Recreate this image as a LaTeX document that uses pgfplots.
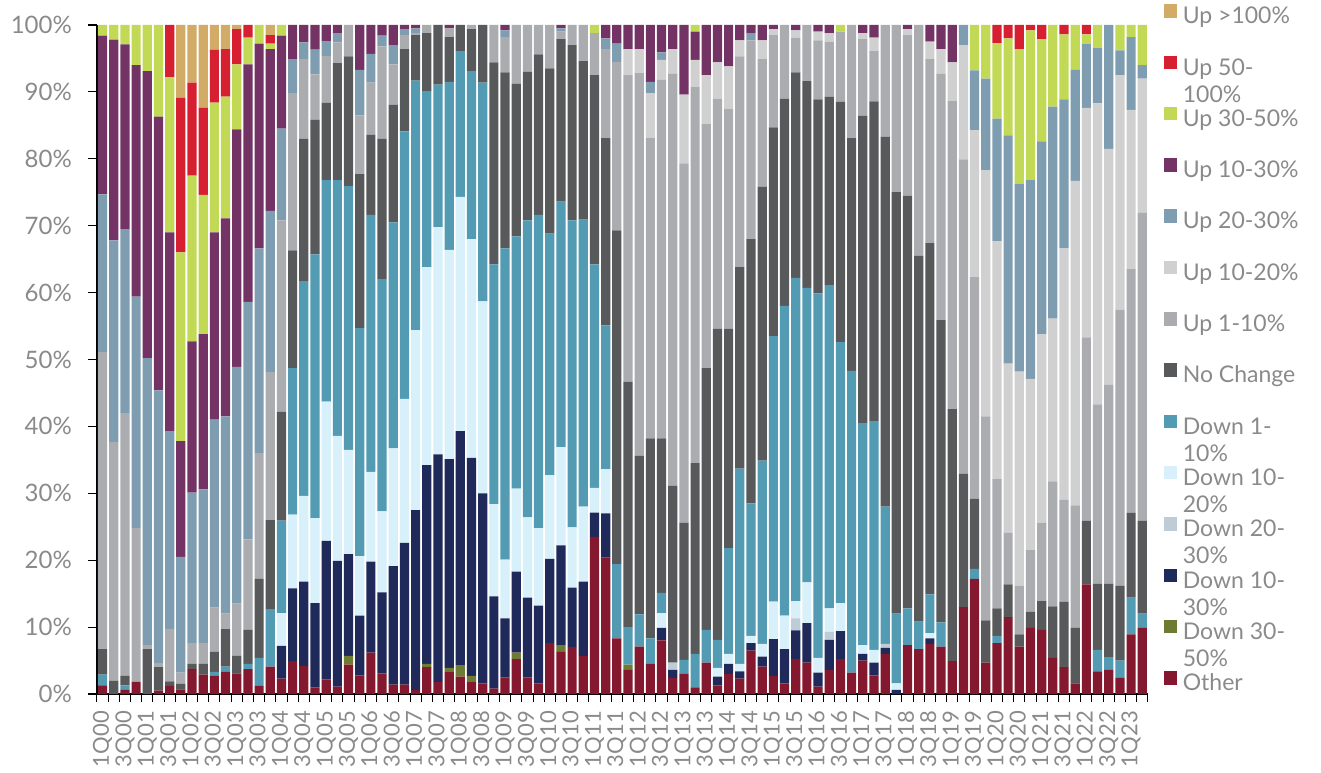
\documentclass[border=0pt]{standalone}
\usepackage{fontspec}
\setmainfont{Lato}
\usepackage{pgfplots}
\usepackage{pgfplotstable}
\pgfplotsset{compat=1.18}

\definecolor{cTan}{HTML}{D2AC67}
\definecolor{cRed}{HTML}{D62031}
\definecolor{cLime}{HTML}{C2D956}
\definecolor{cPurple}{HTML}{733465}
\definecolor{cSteel}{HTML}{7F9DB1}
\definecolor{cLgray}{HTML}{D0D0D0}
\definecolor{cGray}{HTML}{ABACAF}
\definecolor{cDgray}{HTML}{58595B}
\definecolor{cTeal}{HTML}{529BB3}
\definecolor{cIce}{HTML}{D7F0FA}
\definecolor{cMist}{HTML}{BDCCD6}
\definecolor{cNavy}{HTML}{1F2A5A}
\definecolor{cOlive}{HTML}{6E7B33}
\definecolor{cWine}{HTML}{84182E}
\definecolor{txt}{HTML}{8A8A8A}

\newcommand\twol[2]{\vtop{\baselineskip=27bp\hbox{#1}\hbox{#2}}}

% share of firms by change, quarterly 1Q00-2Q23 (bottom to top)
\pgfplotstableread{
x O D5 DN D23 D12 D1 NC U1 U12 U23 U13 U35 U5 U100
0 1.3 0 0 0 0 1.6 3.8 44.4 0 23.6 23.7 1.6 0 0
1 0 0 0 0 0 0 2.0 35.7 0 30.1 30.0 2.2 0 0
2 0.6 0 0 0 0 0.7 1.4 39.3 0 27.5 27.6 2.9 0 0
3 1.8 0 0 0 0 0 0 23.0 0 34.6 34.6 6.0 0 0
4 0 0 0 0 0 0 6.7 0.6 0 42.9 42.9 6.9 0 0
5 0.5 0 0 0 0 0 3.5 0.6 0 40.8 40.9 13.7 0 0
6 1.2 0 0 0 0 0 0.7 7.8 0 29.6 29.7 23.2 7.8 0
7 0.7 0 0 0 0 0 0.8 1.7 0 17.3 17.3 28.2 23.1 10.9
8 3.7 0 0 0 0 0 0.8 3.1 0 22.5 22.6 24.8 13.9 8.6
9 2.9 0 0 0 0 0 1.6 3.1 0 23.0 23.2 20.8 13.0 12.4
10 2.7 0 0 0 0 0.6 3.0 6.6 0 28.1 28.0 19.4 7.9 3.7
11 3.3 0 0 0 0 0.8 5.6 2.3 0 29.5 29.6 18.2 7.1 3.6
12 3.1 0 0 0 0 0 2.6 7.8 0 35.4 35.5 9.7 5.3 0.6
13 3.7 0 0 0 0 0.8 5.1 13.5 0 35.5 35.5 4.0 1.9 0
14 1.2 0 0 0 0 4.2 11.8 18.8 0 30.6 30.6 2.8 0 0
15 4.1 0 0 0 0 8.6 13.3 22.1 0 24.1 24.2 0.8 1.3 1.5
16 2.3 0 4.9 0 4.9 13.8 16.3 28.6 0 13.7 13.9 1.6 0 0
17 4.9 0 10.9 0 11.0 21.9 17.6 23.5 0 5.1 5.1 0 0 0
18 4.2 0 12.6 0 12.8 32.1 21.3 11.9 0 2.5 2.6 0 0 0
19 1.0 0 12.6 0 12.7 39.4 20.1 6.8 0 3.7 3.7 0 0 0
20 2.2 0 20.7 0 20.8 33.1 11.6 7.0 0 2.2 2.4 0 0 0
21 1.1 0 18.8 0 18.7 38.2 17.5 3.1 0 1.4 1.2 0 0 0
22 4.4 1.3 15.2 0 15.6 39.4 19.4 4.7 0 0 0 0 0 0
23 2.8 0 8.9 0 8.9 34.1 23.0 8.8 0 6.8 6.7 0 0 0
24 6.2 0 13.6 0 13.4 38.4 12.0 7.8 0 4.3 4.3 0 0 0
25 3.1 0 12.1 0 12.1 34.7 21.0 13.8 0 1.6 1.6 0 0 0
26 1.4 0 17.7 0 17.6 33.8 17.6 6.0 0 2.9 3.0 0 0 0
27 1.4 0 21.2 0 21.5 40.0 12.3 2.1 0 0.9 0.6 0 0 0
28 0.6 0 26.9 0 26.9 37.3 6.8 0.3 0 0.7 0.5 0 0 0
29 4.0 0.5 29.7 0 29.6 26.3 8.7 1.2 0 0 0 0 0 0
30 1.8 0 34.0 0 34.0 21.3 8.9 0 0 0 0 0 0 0
31 3.4 0.5 31.2 0 31.3 25.1 6.7 1.3 0 0 0.5 0 0 0
32 2.6 1.7 35.0 0 35.0 21.8 3.9 0 0 0 0 0 0 0
33 1.9 0.8 32.6 0 32.7 25.1 6.3 0.6 0 0 0 0 0 0
34 1.6 0 28.4 0 28.7 32.7 8.6 0 0 0 0 0 0 0
35 0.8 0 13.8 0 13.8 35.8 30.2 5.6 0 0 0 0 0 0
36 2.5 0 8.8 0 8.8 46.5 26.3 5.3 0 1.0 0.8 0 0 0
37 5.2 1.0 12.1 0 12.4 37.7 22.8 8.8 0 0 0 0 0 0
38 2.5 0 11.9 0 12.0 44.4 22.2 7.0 0 0 0 0 0 0
39 1.6 0 11.6 0 11.6 46.8 24.0 4.4 0 0 0 0 0 0
40 7.6 0 12.6 0 12.5 36.1 24.7 6.5 0 0 0 0 0 0
41 6.3 1.0 14.9 0 14.7 36.7 24.3 1.1 0 0.5 0.5 0 0 0
42 7.0 0 8.9 0 9.0 45.9 26.2 3.0 0 0 0 0 0 0
43 5.7 0 11.1 0 11.2 42.9 23.7 5.4 0 0 0 0 0 0
44 23.5 0 3.6 0 3.7 33.4 28.3 6.3 0 0 0 1.2 0 0
45 20.4 0 6.6 0 6.6 21.5 28.0 13.3 0 1.6 2.0 0 0 0
46 8.3 0 0 0 0 11.1 49.9 25.2 0 2.7 2.8 0 0 0
47 3.6 0.8 0 0 0 5.6 36.7 45.8 3.9 0 3.6 0 0 0
48 7.1 0 0 0 0 4.8 23.7 57.2 3.6 0 3.6 0 0 0
49 4.5 0 0 0 0 3.8 29.9 44.9 6.7 1.7 8.5 0 0 0
50 8.0 0 1.9 0 2.2 3.0 23.1 53.6 3.0 1.1 4.1 0 0 0
51 2.4 0 1.2 1.1 0 0 26.4 61.6 3.7 0 3.6 0 0 0
52 3.0 0 0 0 0 2.1 20.5 53.7 10.3 0 10.4 0 0 0
53 1.0 0 0 0 0 5.0 28.5 56.2 4.1 0 4.2 1.0 0 0
54 4.7 0 0 0 0 4.9 39.1 36.5 7.3 0 7.5 0 0 0
55 1.3 0 1.3 0 1.3 4.2 46.5 34.4 5.4 0 5.6 0 0 0
56 3.0 0 1.5 0 1.5 15.8 32.8 32.9 6.3 0 6.2 0 0 0
57 2.3 0 1.1 0 1.1 29.2 30.1 31.5 2.4 0 2.3 0 0 0
58 6.5 0 1.1 0 1.1 19.8 39.5 29.7 0 1.1 1.2 0 0 0
59 4.1 0 1.5 0 1.9 27.4 40.9 19.1 2.8 0 2.3 0 0 0
60 2.7 0 5.5 0 5.6 39.7 31.2 13.8 0.9 0 0.6 0 0 0
61 1.6 0 5.1 0 5.0 46.3 31.0 11.0 0 0 0 0 0 0
62 5.2 0 4.3 1.8 2.6 48.3 30.7 5.2 1.1 0 0.8 0 0 0
63 4.7 0 5.9 0 6.1 44.0 30.9 8.4 0 0 0 0 0 0
64 1.1 0 2.1 0 2.2 54.5 29.0 8.8 1.3 0 1.0 0 0 0
65 3.6 0 4.5 1.2 3.5 48.3 28.2 8.2 1.3 0 1.2 0 0 0
66 5.2 0 4.2 0 4.2 39.0 35.9 10.5 0 0 0 1.0 0 0
67 3.2 0 0 0 0 45.1 34.8 16.9 0 0 0 0 0 0
68 5.0 0 1.0 0 1.3 33.2 45.9 11.5 0.9 0 1.2 0 0 0
69 2.8 0 1.9 0 1.9 34.2 47.8 7.5 2.0 0 1.9 0 0 0
70 6.0 0 0.9 0.6 0 20.5 55.3 16.7 0 0 0 0 0 0
71 0 0 0.6 0 1.0 10.4 63.0 25.0 0 0 0 0 0 0
72 7.3 0 0 0 0 5.5 61.7 24.0 0.9 0 0.6 0 0 0
73 6.7 0 0 0 0 4.1 54.7 34.5 0 0 0 0 0 0
74 7.5 0 0.8 0 0.8 5.8 52.5 27.5 2.6 0 2.5 0 0 0
75 7.1 0 0 0 0 3.6 45.2 36.8 3.7 0 3.6 0 0 0
76 4.9 0 0 0 0 0 37.7 46.1 5.7 0 5.6 0 0 0
77 13.0 0 0 0 0 0 19.9 47.0 17.1 3.0 0 0 0 0
78 17.2 0 0 0 0 1.5 10.5 33.1 22.0 8.9 0 6.8 0 0
79 4.7 0 0 0 0 0 6.3 30.5 36.8 13.7 0 8.0 0 0
80 7.6 0 0 0 0 1.1 4.1 19.3 35.6 18.3 0 11.3 2.7 0
81 11.5 0 0 0 0 0 4.9 7.7 25.3 34.1 0 14.5 2.0 0
82 7.1 0 0 0 0 0 1.8 7.3 32.0 28.1 0 20.1 3.6 0
83 9.9 0 0 0 0 0 2.4 9.2 25.6 29.7 0 22.4 0.8 0
84 9.6 0 0 0 0 0 4.3 11.7 28.2 28.8 0 15.3 2.1 0
85 5.4 0 0 0 0 0 7.7 18.7 24.3 31.7 0 12.2 0 0
86 4.0 0 0 0 0 0 9.8 15.2 37.6 22.3 0 9.7 1.4 0
87 1.6 0 0 0 0 0 8.3 18.3 48.5 16.6 0 6.7 0 0
88 16.4 0 0 0 0 0 9.5 27.4 34.3 9.6 0 1.4 1.4 0
89 3.4 0 0 0 0 3.2 9.9 26.8 45.0 8.3 0 3.4 0 0
90 3.6 0 0 0 0 1.9 11.0 29.7 35.3 18.5 0 0 0 0
91 2.4 0 0 0 0 2.6 11.2 41.2 35.1 3.7 0 3.8 0 0
92 8.9 0 0 0 0 5.5 12.7 36.4 23.8 10.9 0 1.8 0 0
93 9.9 0 0 0 0 2.1 13.9 46.0 20.1 2.0 0 6.0 0 0
}\qdata

\begin{document}
\begin{tikzpicture}
\begin{axis}[
  at={(0,0)}, anchor=south west,
  scale only axis, width=1051bp, height=669bp,
  ybar stacked, bar width=9.2bp,
  xmin=-0.5, xmax=93.5, ymin=0, ymax=100,
  axis lines=left, axis line style={-, black, line width=1.5bp},
  tick align=outside,
  ytick={0,10,...,100},
  yticklabels={0\%,10\%,20\%,30\%,40\%,50\%,60\%,70\%,80\%,90\%,100\%},
  major tick length=9bp,
  every major y tick/.append style={black, line width=1.2bp},
  xtick={0,2,...,92},
  xticklabels={1Q00,3Q00,1Q01,3Q01,1Q02,3Q02,1Q03,3Q03,1Q04,3Q04,1Q05,3Q05,1Q06,3Q06,1Q07,3Q07,1Q08,3Q08,1Q09,3Q09,1Q10,3Q10,1Q11,3Q11,1Q12,3Q12,1Q13,3Q13,1Q14,3Q14,1Q15,3Q15,1Q16,3Q16,1Q17,3Q17,1Q18,3Q18,1Q19,3Q19,1Q20,3Q20,1Q21,3Q21,1Q22,3Q22,1Q23},
  every major x tick/.append style={draw=none},
  minor xtick={-0.5,0.5,...,93.5},
  minor tick length=8bp,
  every minor x tick/.append style={black, line width=1bp},
  tick label style={text=txt, font=\fontsize{24bp}{28bp}\selectfont},
  yticklabel style={inner sep=0pt, xshift=-16bp},
  xticklabel style={font=\fontsize{22bp}{26bp}\selectfont, yshift=-8bp, rotate=90, anchor=east, inner sep=0pt},
  legend cell align=left,
  reverse legend,
  legend image code/.code={\fill[#1] (0bp,0bp) rectangle (13.5bp,13.5bp);},
  legend style={draw=none, fill=none, inner sep=0pt, outer sep=0pt,
    at={(axis description cs:1.0152,1.031)}, anchor=north west,
    row sep=26.8bp, column sep=5.5bp,
    font=\fontsize{23bp}{28bp}\selectfont, text=txt,
    nodes={inner sep=0pt, text height=17bp, text depth=5bp}},
]
\addplot+[fill=cWine, draw=none] table[x=x, y=O]{\qdata};
\addplot+[fill=cOlive, draw=none] table[x=x, y=D5]{\qdata};
\addplot+[fill=cNavy, draw=none] table[x=x, y=DN]{\qdata};
\addplot+[fill=cMist, draw=none] table[x=x, y=D23]{\qdata};
\addplot+[fill=cIce, draw=none] table[x=x, y=D12]{\qdata};
\addplot+[fill=cTeal, draw=none] table[x=x, y=D1]{\qdata};
\addplot+[fill=cDgray, draw=none] table[x=x, y=NC]{\qdata};
\addplot+[fill=cGray, draw=none] table[x=x, y=U1]{\qdata};
\addplot+[fill=cLgray, draw=none] table[x=x, y=U12]{\qdata};
\addplot+[fill=cSteel, draw=none] table[x=x, y=U23]{\qdata};
\addplot+[fill=cPurple, draw=none] table[x=x, y=U13]{\qdata};
\addplot+[fill=cLime, draw=none] table[x=x, y=U35]{\qdata};
\addplot+[fill=cRed, draw=none] table[x=x, y=U5]{\qdata};
\addplot+[fill=cTan, draw=none] table[x=x, y=U100]{\qdata};
\legend{Other, \twol{Down 30-}{50\%}, \twol{Down 10-}{30\%}, \twol{Down 20-}{30\%},
  \twol{Down 10-}{20\%}, \twol{Down 1-}{10\%}, No Change, Up 1-10\%, Up 10-20\%,
  Up 20-30\%, Up 10-30\%, Up 30-50\%, \twol{Up 50-}{100\%}, Up >100\%}
\end{axis}
\pgfresetboundingbox
\useasboundingbox (-97bp,-79bp) rectangle (1224bp,694bp);
\end{tikzpicture}
\end{document}
